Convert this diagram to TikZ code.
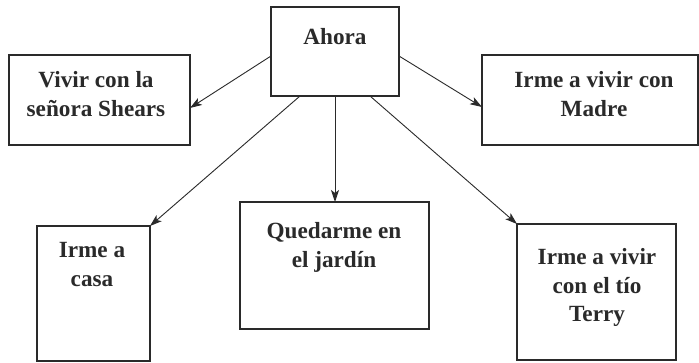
\documentclass[tikz,border=0pt]{standalone}
\usepackage{fontspec}
\setmainfont{Liberation Serif}
\usetikzlibrary{arrows.meta}
\definecolor{ink}{HTML}{2A2A2A}
\begin{document}
\begin{tikzpicture}[x=1pt,y=-1pt,
  boxnode/.style={draw=ink, line width=1.2pt, rectangle, inner sep=0pt, outer sep=0pt},
  txt/.style={anchor=north, inner sep=0pt, align=center, text=ink,
    font=\fontsize{23.2}{28.5}\selectfont\bfseries},
  arr/.style={draw=ink, line width=0.9pt, -{Stealth[length=12pt,width=8pt,inset=3pt]}}]
\useasboundingbox (0,0) rectangle (699,362);
\fill[white] (0,0) rectangle (699,362);
% boxes
\node[boxnode, minimum width=128pt, minimum height=89pt] (ahora) at (335,51.5) {};
\node[boxnode, minimum width=181pt, minimum height=90pt] (vivir) at (99.5,100) {};
\node[boxnode, minimum width=216pt, minimum height=90pt] (madre) at (590,100) {};
\node[boxnode, minimum width=113pt, minimum height=135pt] (casa) at (93.5,293.5) {};
\node[boxnode, minimum width=189pt, minimum height=127pt] (jardin) at (334.5,265.5) {};
\node[boxnode, minimum width=159pt, minimum height=136pt] (terry) at (596.5,292) {};
% texts
\node[txt] (tahora) at (335,28) {Ahora};
\node[txt] (tvivir) at (96,71.5) {Vivir con la\\señora Shears};
\node[txt] (tmadre) at (594,71.5) {Irme a vivir con\\Madre};
\node[txt] (tcasa) at (92,242.5) {Irme a\\casa};
\node[txt] (tjardin) at (334,222.5) {Quedarme en\\el jardín};
\node[txt] (tterry) at (597,248.5) {Irme a vivir\\con el tío\\Terry};
% arrows
\draw[arr] ([yshift=-4.5pt]ahora.west) -- ([yshift=-8pt]vivir.east);
\draw[arr] ([yshift=-4.5pt]ahora.east) -- ([yshift=-7pt]madre.west);
\draw[arr] ([xshift=-35pt]ahora.south) -- (casa.north east);
\draw[arr] (ahora.south) -- (ahora.south |- jardin.north);
\draw[arr] ([xshift=35pt]ahora.south) -- (terry.north west);
\end{tikzpicture}
\end{document}
